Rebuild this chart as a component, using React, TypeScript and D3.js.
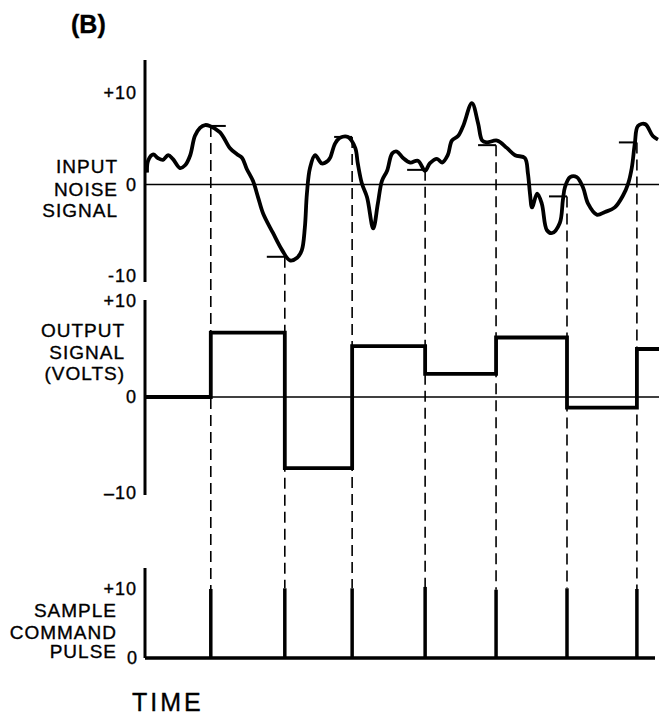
import * as d3 from "d3";

// sample instants (time units, 0..100 across the plot)
const sampleTimes = [12.8, 27.2, 40.3, 54.5, 68.3, 82.1, 95.7];
// noise value caught at each sample instant
const sampledNoise = [6.4, -7.9, 5.2, 1.6, 4.3, -1.3, 4.6];
// held output level after each sample
const heldOutput = [6.7, -7.4, 5.3, 2.4, 6.2, -1.1, 5.0];
// pulse amplitude of each sample command
const pulseHeights = [10, 10.1, 10.1, 10.3, 9.9, 10.1, 10];

const topTicks = ["+10", "0", "-10"];
const midTicks = ["+10", "0", "–10"];

// input noise trace [time, volts]
const noise: [number, number][] = [
  [0.4, 1.3], [0.6, 2.6], [1.6, 3.3], [2.5, 2.9], [3.5, 2.7], [4.5, 3.2], [5.4, 2.8],
  [6.8, 1.8], [7.8, 2.1], [8.8, 3.2], [9.7, 5.3], [10.7, 6.2], [11.7, 6.5], [12.6, 6.4],
  [14.6, 5.7], [16.5, 4.0], [17.9, 3.3], [18.9, 2.9], [19.8, 1.7], [21.0, 0.4], [22.0, -1.4],
  [23.0, -3.2], [24.9, -5.3], [26.7, -7.2], [28.2, -8.3], [29.6, -8.0], [30.5, -7.2],
  [31.1, -4.7], [31.5, -1.0], [32.1, 1.8], [33.1, 3.2], [34.4, 2.3], [35.6, 2.6], [36.0, 2.9],
  [37.0, 4.5], [37.9, 5.1], [39.5, 5.2], [40.9, 4.0], [41.4, 2.3], [42.2, 0.1], [43.2, -1.4],
  [44.4, -4.8], [45.3, -2.1], [46.1, 0.4], [47.1, 1.5], [48.1, 3.4], [49.0, 3.6], [50.2, 2.9],
  [51.6, 2.4], [53.1, 2.6], [54.5, 1.5], [55.4, 2.3], [56.8, 2.8], [57.8, 2.4], [58.9, 3.2],
  [59.7, 4.8], [60.9, 5.3], [61.9, 6.4], [63.6, 8.9], [64.8, 6.7], [65.6, 4.8], [66.5, 4.6],
  [68.5, 4.8], [70.4, 4.0], [72.0, 3.2], [73.9, 2.9], [74.5, 1.2], [74.9, -1.0], [75.3, -2.5],
  [76.3, -1.0], [77.2, -2.1], [78.2, -5.0], [79.2, -5.3], [80.7, -4.2], [81.3, -1.7],
  [81.7, -0.3], [82.7, 0.8], [84.0, 0.8], [85.2, -0.3], [86.2, -2.1], [87.9, -3.3],
  [89.5, -3.0], [91.4, -2.5], [93.0, -1.2], [94.0, 0.1], [94.7, 1.8], [95.3, 4.5],
  [95.9, 6.4], [97.3, 6.6], [98.8, 5.3], [99.8, 4.9],
];

const W = 659;
const H = 717;
const font = "'Liberation Sans', Arial, Helvetica, sans-serif";

export default function App() {
  const x = d3.scaleLinear().domain([0, 100]).range([145, 659]);
  const yTop = d3.scaleLinear().domain([-10, 10]).range([276, 93]);
  const yMid = d3.scaleLinear().domain([-10, 10]).range([493, 301]);
  const yBot = d3.scaleLinear().domain([0, 10]).range([658, 589]);

  const noiseLine = d3
    .line<[number, number]>()
    .x((d) => x(d[0]))
    .y((d) => yTop(d[1]))
    .curve(d3.curveCatmullRom.alpha(0.5));

  const stepPts: [number, number][] = [[0, 0]];
  sampleTimes.forEach((t, i) => stepPts.push([t, heldOutput[i]]));
  stepPts.push([100, heldOutput[heldOutput.length - 1]]);
  const stepLine = d3
    .line<[number, number]>()
    .x((d) => x(d[0]))
    .y((d) => yMid(d[1]))
    .curve(d3.curveStepAfter);

  // scanned lettering is a bit heavier than the plain font
  const txt = { fontFamily: font, fill: "#000", stroke: "#000", strokeWidth: 0.35 };

  const label = (lines: string[], xr: number, ys: number[]) =>
    lines.map((s, i) => (
      <text key={s} x={xr} y={ys[i]} textAnchor="end" dominantBaseline="central"
        fontSize={19} letterSpacing={1} {...txt}>{s}</text>
    ));

  const tickLabels = (scale: d3.ScaleLinear<number, number>, vals: number[], names: string[], xr: number) =>
    vals.map((v, i) => (
      <text key={i} x={xr} y={scale(v)} textAnchor="end" dominantBaseline="central"
        fontSize={18} letterSpacing={1} {...txt}>{names[i]}</text>
    ));

  return (
    <svg width={W} height={H} style={{ position: "absolute", left: 0, top: 0, background: "#fff" }}>
      <text x={71} y={24} dominantBaseline="central" fontSize={25} fontWeight="bold" {...txt}>(B)</text>

      {/* dashed sample lines */}
      {sampleTimes.map((t, i) => (
        <line key={"d" + i} x1={x(t)} x2={x(t)} y1={yTop(sampledNoise[i])} y2={yBot(pulseHeights[i])}
          stroke="#000" strokeWidth={1.6} strokeDasharray="11,6" />
      ))}

      {/* top panel */}
      <line x1={x(0)} x2={x(0)} y1={60} y2={282} stroke="#000" strokeWidth={3} />
      <line x1={x(0)} x2={x(100)} y1={yTop(0)} y2={yTop(0)} stroke="#000" strokeWidth={1.5} />
      <path d={noiseLine(noise) ?? ""} fill="none" stroke="#000" strokeWidth={3.8} strokeLinejoin="round" />
      {sampleTimes.map((t, i) => (
        <line key={"t" + i} x1={x(t)} x2={i === 0 ? x(t) + 15 : x(t) - 18}
          y1={yTop(sampledNoise[i])} y2={yTop(sampledNoise[i])} stroke="#000" strokeWidth={2} />
      ))}
      {tickLabels(yTop, [10, 0, -10], topTicks, 137)}
      {label(["INPUT", "NOISE", "SIGNAL"], 118, [166, 189, 210])}

      {/* middle panel */}
      <line x1={x(0)} x2={x(0)} y1={300} y2={495} stroke="#000" strokeWidth={3} />
      <line x1={x(0)} x2={x(100)} y1={yMid(0)} y2={yMid(0)} stroke="#000" strokeWidth={1.5} />
      <path d={stepLine(stepPts) ?? ""} fill="none" stroke="#000" strokeWidth={3.8} />
      {tickLabels(yMid, [10, 0, -10], midTicks, 137)}
      {label(["OUTPUT", "SIGNAL", "(VOLTS)"], 125, [330, 352, 373])}

      {/* bottom panel */}
      <line x1={x(0)} x2={x(0)} y1={568} y2={yBot(0)} stroke="#000" strokeWidth={3} />
      <line x1={x(0)} x2={655} y1={yBot(0)} y2={yBot(0)} stroke="#000" strokeWidth={3.5} />
      {sampleTimes.map((t, i) => (
        <line key={"p" + i} x1={x(t)} x2={x(t)} y1={yBot(0)} y2={yBot(pulseHeights[i])}
          stroke="#000" strokeWidth={3.5} />
      ))}
      <text x={137} y={yBot(10)} textAnchor="end" dominantBaseline="central" fontSize={18}
        letterSpacing={1} {...txt}>+10</text>
      <text x={137} y={yBot(0)} textAnchor="end" dominantBaseline="central" fontSize={18} {...txt}>0</text>
      {label(["SAMPLE", "COMMAND", "PULSE"], 117, [610, 632, 651])}

      <text x={132} y={702} dominantBaseline="central" fontSize={25} letterSpacing={3} {...txt}>TIME</text>
    </svg>
  );
}
